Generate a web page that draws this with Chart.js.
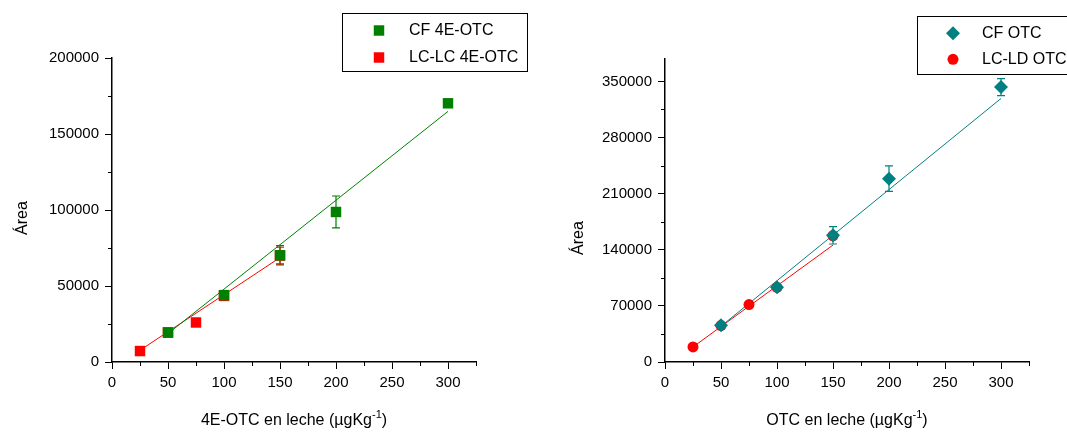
<!DOCTYPE html>
<html lang="es">
<head>
<meta charset="utf-8">
<title>Curvas de calibración OTC / 4E-OTC</title>
<script src="https://cdn.jsdelivr.net/npm/chart.js@4.4.1/dist/chart.umd.min.js"></script>
<style>
  html, body { margin: 0; padding: 0; background: #fff; }
  .panel { position: absolute; top: 0; }
  #left { left: 0; }
  #right { left: 533px; }
</style>
</head>
<body>
<div class="panel" id="left"><canvas id="chart-4e" width="533" height="432"></canvas></div>
<div class="panel" id="right"><canvas id="chart-otc" width="534" height="432"></canvas></div>

<script>
// concentraciones en leche (µg/kg)
var concCF = [50, 100, 150, 200, 300];
var concLC = [25, 50, 75, 100, 150];
var fitRangeCF = [50, 300];
var fitRangeLC = [25, 150];

// marcas de los ejes
var xTicks = [0, 50, 100, 150, 200, 250, 300];
var yTicks4E = [0, 50000, 100000, 150000, 200000];
var yTicksOTC = [0, 70000, 140000, 210000, 280000, 350000];

// 4E-OTC: áreas y desviaciones
var area4E_CF = [19300, 44000, 70200, 98700, 170200];
var err4E_CF  = [1200, 1500, 6300, 10500, 1500];
var area4E_LC = [7200, 19500, 26000, 43500, 70000];
var err4E_LC  = [1000, 1000, 2000, 1500, 5500];
var fit4E_CF  = [18700, 164900];
var fit4E_LC  = [7700, 68700];

// OTC: áreas y desviaciones
var areaOTC_CF = [45900, 93400, 158000, 228750, 343000];
var errOTC_CF  = [2000, 2500, 10800, 16000, 10600];
var areaOTC_LD = [18750, 45500, 71700, 93000, 157500];
var errOTC_LD  = [1500, 1500, 2000, 2000, 3000];
var fitOTC_CF  = [44600, 328750];
var fitOTC_LD  = [18750, 145900];

// textos
var labels4E  = ['CF 4E-OTC', 'LC-LC 4E-OTC'];
var labelsOTC = ['CF OTC', 'LC-LD OTC'];
var xTitle4E  = ['4E-OTC en leche (µgKg', '-1', ')'];
var xTitleOTC = ['OTC en leche (µgKg', '-1', ')'];
var yTitle    = 'Área';

var FONT = '"Liberation Sans", Arial, sans-serif';
Chart.defaults.font.family = FONT;
Chart.defaults.color = '#000';

function pts(xs, ys) {
  return xs.map(function (x, i) { return { x: x, y: ys[i] }; });
}

function fixedTicks(values) {
  return function (s) { s.ticks = values.map(function (v) { return { value: v }; }); };
}

// barras de error verticales con tope
var errorBars = {
  id: 'errorBars',
  beforeDatasetsDraw: function (chart) {
    var ctx = chart.ctx, ys = chart.scales.y;
    chart.data.datasets.forEach(function (ds, i) {
      if (!ds.errors) return;
      var meta = chart.getDatasetMeta(i);
      ctx.save();
      ctx.strokeStyle = ds.borderColor;
      ctx.lineWidth = 1.2;
      meta.data.forEach(function (pt, j) {
        var e = ds.errors[j];
        if (!e) return;
        var v = ds.data[j].y;
        var t = ys.getPixelForValue(v + e), b = ys.getPixelForValue(v - e);
        ctx.beginPath();
        ctx.moveTo(pt.x, t); ctx.lineTo(pt.x, b);
        ctx.moveTo(pt.x - 4, t); ctx.lineTo(pt.x + 4, t);
        ctx.moveTo(pt.x - 4, b); ctx.lineTo(pt.x + 4, b);
        ctx.stroke();
      });
      ctx.restore();
    });
  }
};

// marcas secundarias en ambos ejes
var minorTicks = {
  id: 'minorTicks',
  afterDraw: function (chart, args, o) {
    var ctx = chart.ctx;
    ctx.save();
    ctx.strokeStyle = '#000';
    ctx.lineWidth = 1;
    ['x', 'y'].forEach(function (id) {
      var s = chart.scales[id], step = o[id];
      for (var v = step; v <= s.max + 1e-6; v += 2 * step) {
        var p = Math.round(s.getPixelForValue(v)) + 0.5;
        ctx.beginPath();
        if (id === 'x') { ctx.moveTo(p, s.top); ctx.lineTo(p, s.top + 4); }
        else { ctx.moveTo(s.right, p); ctx.lineTo(s.right - 4, p); }
        ctx.stroke();
      }
    });
    ctx.restore();
  }
};

// títulos de ejes (con superíndice)
var axisTitles = {
  id: 'axisTitles',
  afterDraw: function (chart, args, o) {
    var ctx = chart.ctx, a = chart.chartArea;
    ctx.save();
    ctx.fillStyle = '#000';
    ctx.textBaseline = 'alphabetic';
    ctx.textAlign = 'left';
    var main = '16px ' + FONT, sup = '11px ' + FONT;
    ctx.font = main;
    var w1 = ctx.measureText(o.x[0]).width, w3 = ctx.measureText(o.x[2]).width;
    ctx.font = sup;
    var w2 = ctx.measureText(o.x[1]).width;
    var x0 = (a.left + a.right) / 2 - (w1 + w2 + w3) / 2;
    ctx.font = main;
    ctx.fillText(o.x[0], x0, o.xBase);
    ctx.fillText(o.x[2], x0 + w1 + w2, o.xBase);
    ctx.font = sup;
    ctx.fillText(o.x[1], x0 + w1, o.xBase - 7);

    ctx.font = main;
    ctx.translate(o.yBase, o.yMid);
    ctx.rotate(-Math.PI / 2);
    ctx.textAlign = 'center';
    ctx.fillText(o.y, 0, 0);
    ctx.restore();
  }
};

// leyenda en recuadro
var boxLegend = {
  id: 'boxLegend',
  afterDraw: function (chart, args, o) {
    var ctx = chart.ctx;
    ctx.save();
    ctx.strokeStyle = '#000';
    ctx.lineWidth = 1;
    ctx.strokeRect(o.left + 0.5, o.top + 0.5, o.width, o.height);
    ctx.font = '16px ' + FONT;
    ctx.textBaseline = 'middle';
    ctx.textAlign = 'left';
    o.items.forEach(function (idx, k) {
      var ds = chart.data.datasets[idx];
      var y = o.top + o.rows[k];
      ctx.fillStyle = ds.backgroundColor;
      ctx.strokeStyle = ds.borderColor;
      Chart.helpers.drawPoint(ctx, { pointStyle: ds.pointStyle, radius: ds.pointRadius, rotation: 0, borderWidth: 0 },
        o.left + o.markX, y);
      ctx.fillStyle = '#000';
      ctx.fillText(ds.label, o.left + o.textX, y);
    });
    ctx.restore();
  }
};

function makeChart(canvasId, cfg) {
  var markerCF = { pointStyle: cfg.styleCF, pointRadius: cfg.radiusCF };
  var markerLC = { pointStyle: cfg.styleLC, pointRadius: cfg.radiusLC };
  return new Chart(document.getElementById(canvasId), {
    type: 'scatter',
    data: {
      datasets: [
        Object.assign({ label: cfg.labels[0], data: pts(concCF, cfg.cf), errors: cfg.errCF,
          backgroundColor: cfg.colorCF, borderColor: cfg.colorCF, borderWidth: 0 }, markerCF),
        Object.assign({ label: cfg.labels[1], data: pts(concLC, cfg.lc), errors: cfg.errLC,
          backgroundColor: cfg.colorLC, borderColor: cfg.colorLC, borderWidth: 0 }, markerLC),
        { label: 'ajuste CF', data: pts(fitRangeCF, cfg.fitCF), showLine: true, pointRadius: 0,
          borderColor: cfg.colorCF, backgroundColor: cfg.colorCF, borderWidth: 1 },
        { label: 'ajuste LC', data: pts(fitRangeLC, cfg.fitLC), showLine: true, pointRadius: 0,
          borderColor: cfg.colorLC, backgroundColor: cfg.colorLC, borderWidth: 1 }
      ]
    },
    options: {
      responsive: false,
      animation: false,
      layout: { padding: { top: cfg.areaTop, right: cfg.padRight, left: 0, bottom: 0 } },
      scales: {
        x: {
          type: 'linear', min: 0, max: 325,
          afterBuildTicks: fixedTicks(xTicks),
          afterFit: function (s) { s.height = 432 - 362; },
          border: { color: '#000', width: 1.5 },
          grid: { drawOnChartArea: false, tickLength: 7, tickColor: '#000', tickWidth: 1 },
          ticks: { padding: 5, font: { size: 15 }, color: '#000' }
        },
        y: {
          type: 'linear', min: 0, max: cfg.yMax,
          afterBuildTicks: fixedTicks(cfg.yTicks),
          afterFit: function (s) { s.width = cfg.areaLeft; },
          border: { color: '#000', width: 1.5 },
          grid: { drawOnChartArea: false, tickLength: 7, tickColor: '#000', tickWidth: 1 },
          ticks: { padding: 6, font: { size: 15 }, color: '#000',
            callback: function (v) { return String(v); } }
        }
      },
      plugins: {
        legend: { display: false },
        tooltip: { enabled: false },
        minorTicks: { x: 25, y: cfg.yTicks[1] / 2 },
        axisTitles: { x: cfg.xTitle, xBase: 425, y: yTitle, yBase: cfg.yTitleX, yMid: cfg.yTitleY },
        boxLegend: cfg.legend
      }
    },
    plugins: [errorBars, minorTicks, axisTitles, boxLegend]
  });
}

makeChart('chart-4e', {
  labels: labels4E, xTitle: xTitle4E, yTicks: yTicks4E,
  cf: area4E_CF, errCF: err4E_CF, lc: area4E_LC, errLC: err4E_LC,
  fitCF: fit4E_CF, fitLC: fit4E_LC,
  colorCF: '#008000', colorLC: '#ff0000',
  styleCF: 'rect', radiusCF: 7.4, styleLC: 'rect', radiusLC: 7.4,
  yMax: 200000,
  areaTop: 58, areaLeft: 112, padRight: 533 - 476,
  yTitleX: 27, yTitleY: 218,
  legend: { left: 342, top: 13, width: 185, height: 58, markX: 37, textX: 67, rows: [17.5, 44.5], items: [0, 1] }
});

makeChart('chart-otc', {
  labels: labelsOTC, xTitle: xTitleOTC, yTicks: yTicksOTC,
  cf: areaOTC_CF, errCF: errOTC_CF, lc: areaOTC_LD, errLC: errOTC_LD,
  fitCF: fitOTC_CF, fitLC: fitOTC_LD,
  colorCF: '#008080', colorLC: '#ff0000',
  styleCF: 'rectRot', radiusCF: 7, styleLC: 'circle', radiusLC: 5.5,
  yMax: 378000,
  areaTop: 59, areaLeft: 132, padRight: 534 - 496,
  yTitleX: 50, yTitleY: 238,
  legend: { left: 384, top: 16, width: 200, height: 58, markX: 36, textX: 65, rows: [17.3, 43.3], items: [0, 1] }
});
</script>
</body>
</html>
